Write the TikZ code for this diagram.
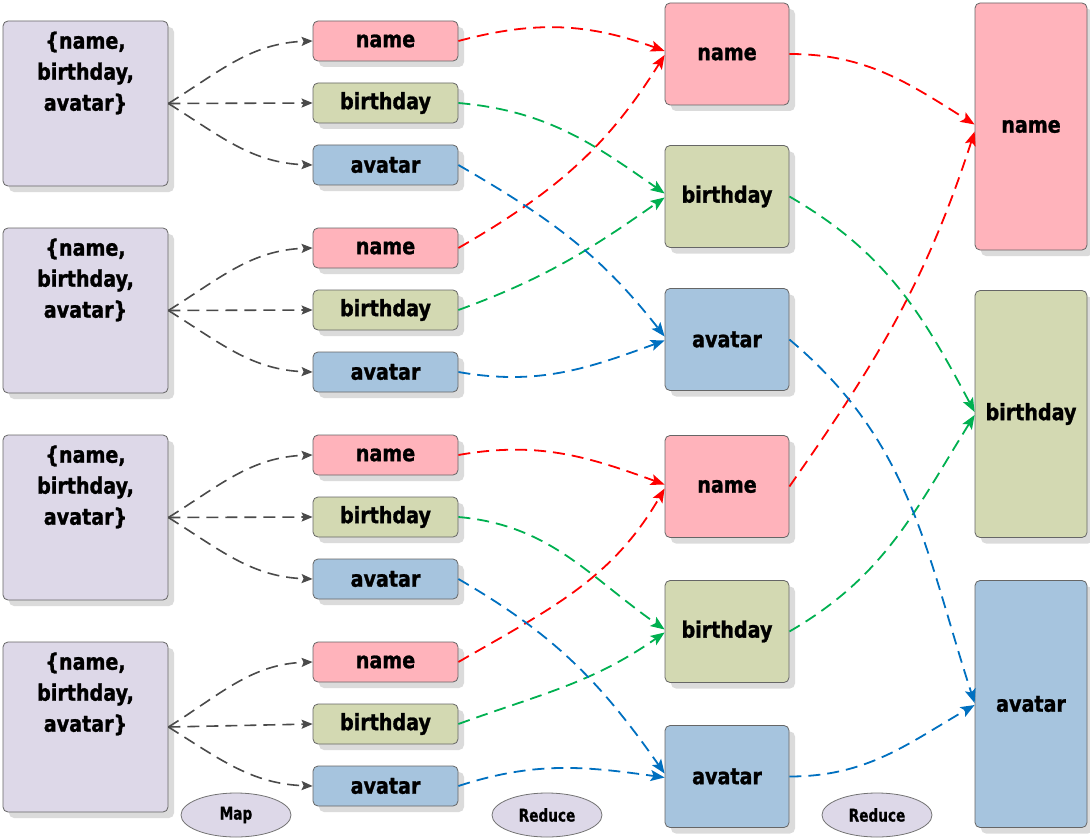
\documentclass[tikz,border=0pt]{standalone}
\usepackage{fontspec}
\usetikzlibrary{arrows.meta,shadows,shapes.geometric}
\newfontfamily\lblfont{DejaVu Sans}[FakeStretch=0.85,FakeBold=1.2]
\newfontfamily\tagfont{DejaVu Sans}[FakeStretch=0.78,FakeBold=0.8]
\definecolor{recC}{HTML}{DDD8E8}
\definecolor{nameC}{HTML}{FFB3BB}
\definecolor{birthC}{HTML}{D3D9B2}
\definecolor{avaC}{HTML}{A6C4DE}
\definecolor{mapline}{HTML}{4A4A4A}
\definecolor{redline}{HTML}{FF0000}
\definecolor{greenline}{HTML}{00B050}
\definecolor{blueline}{HTML}{0070C0}
\tikzset{
  box/.style={draw=black!60, line width=0.8pt, rounded corners=5pt, inner sep=0pt,
    font=\lblfont\bfseries\fontsize{22.5}{26}\selectfont,
    drop shadow={shadow xshift=6pt, shadow yshift=-6pt, fill=black!14, opacity=1}},
  recbox/.style={box, fill=recC, minimum width=165pt},
  namebox/.style={box, fill=nameC},
  birthbox/.style={box, fill=birthC},
  avabox/.style={box, fill=avaC},
  small/.style={minimum width=145pt, minimum height=40pt},
  mid/.style={minimum width=124pt, minimum height=102pt},
  tall/.style={minimum width=112pt, minimum height=247pt},
  rectext/.style={font=\lblfont\bfseries\fontsize{22.5}{31}\selectfont, align=center, inner sep=0pt},
  phase/.style={ellipse, draw=black!55, line width=0.8pt, fill=recC, minimum width=110pt,
    minimum height=44pt, inner sep=0pt, font=\tagfont\bfseries\fontsize{17.5}{19}\selectfont},
  conn/.style={dash pattern=on 12pt off 7pt, line width=1.8pt},
  mapc/.style={conn, draw=mapline, line width=1.6pt,
    -{Stealth[length=11pt,width=9pt,inset=2pt,fill=mapline]}},
  redc/.style={conn, draw=redline, -{Stealth[length=14pt,width=11pt,inset=3pt,fill=redline]}},
  greenc/.style={conn, draw=greenline, -{Stealth[length=14pt,width=11pt,inset=3pt,fill=greenline]}},
  bluec/.style={conn, draw=blueline, -{Stealth[length=14pt,width=11pt,inset=3pt,fill=blueline]}},
}
\begin{document}
\begin{tikzpicture}[x=1pt,y=1pt]
\useasboundingbox (0,0) rectangle (1090,-840);

% records
\node[recbox, minimum height=165pt] (m1) at (85.5,-103.5) {};
\node[recbox, minimum height=165pt] (m2) at (85.5,-310.5) {};
\node[recbox, minimum height=165pt] (m3) at (85.5,-517.5) {};
\node[recbox, minimum height=170pt] (m4) at (85.5,-727) {};
\node[rectext] (m1t) at (85.5,-73) {\{name,\\birthday,\\avatar\}};
\node[rectext] (m2t) at (85.5,-280) {\{name,\\birthday,\\avatar\}};
\node[rectext] (m3t) at (85.5,-487) {\{name,\\birthday,\\avatar\}};
\node[rectext] (m4t) at (85.5,-694) {\{name,\\birthday,\\avatar\}};

% map output
\node[namebox, small]  (n1) at (385.5,-41) {name};
\node[birthbox, small] (b1) at (385.5,-103) {birthday};
\node[avabox, small]   (a1) at (385.5,-165) {avatar};
\node[namebox, small]  (n2) at (385.5,-248) {name};
\node[birthbox, small] (b2) at (385.5,-310) {birthday};
\node[avabox, small]   (a2) at (385.5,-372) {avatar};
\node[namebox, small]  (n3) at (385.5,-455) {name};
\node[birthbox, small] (b3) at (385.5,-517) {birthday};
\node[avabox, small]   (a3) at (385.5,-579) {avatar};
\node[namebox, small]  (n4) at (385.5,-662) {name};
\node[birthbox, small] (b4) at (385.5,-724) {birthday};
\node[avabox, small]   (a4) at (385.5,-786) {avatar};

% first reduce
\node[namebox, mid]  (rn1) at (727,-54) {name};
\node[birthbox, mid] (rb1) at (727,-196.5) {birthday};
\node[avabox, mid]   (ra1) at (727,-339.5) {avatar};
\node[namebox, mid]  (rn2) at (727,-486.5) {name};
\node[birthbox, mid] (rb2) at (727,-631.5) {birthday};
\node[avabox, mid]   (ra2) at (727,-776.5) {avatar};

% second reduce
\node[namebox, tall]  (fn) at (1031,-126.5) {name};
\node[birthbox, tall] (fb) at (1031,-414) {birthday};
\node[avabox, tall]   (fa) at (1031,-704) {avatar};

% phase tags
\node[phase] (pmap) at (236,-815) {Map};
\node[phase] (pred1) at (547,-815) {Reduce};
\node[phase] (pred2) at (877,-815) {Reduce};

% map fan-out
\foreach \i in {1,2,3,4}{
  \draw[mapc] (m\i.east) to[out=32,in=182] (n\i.west);
  \draw[mapc] (m\i.east) -- (b\i.west);
  \draw[mapc] (m\i.east) to[out=-32,in=178] (a\i.west);
}

% name
\draw[redc] (n1.east) to[out=15,in=160] ([yshift=3pt]rn1.west);
\draw[redc] (n2.east) to[out=30,in=238] ([yshift=-1pt]rn1.west);
\draw[redc] (n3.east) to[out=10,in=160] ([yshift=2pt]rn2.west);
\draw[redc] (n4.east) to[out=30,in=240] ([yshift=-2pt]rn2.west);
\draw[redc] (rn1.east) to[out=0,in=148] ([yshift=2pt]fn.west);
\draw[redc] (rn2.east) to[out=55,in=252] ([yshift=-5pt]fn.west);

% birthday
\draw[greenc] (b1.east) to[out=-5,in=145] ([yshift=3pt]rb1.west);
\draw[greenc] (b2.east) to[out=20,in=215] ([yshift=-1pt]rb1.west);
\draw[greenc] (b3.east) to[out=-5,in=145] ([yshift=2pt]rb2.west);
\draw[greenc] (b4.east) to[out=20,in=215] ([yshift=-1pt]rb2.west);
\draw[greenc] (rb1.east) to[out=-30,in=118] ([yshift=2pt]fb.west);
\draw[greenc] (rb2.east) to[out=30,in=238] ([yshift=-1pt]fb.west);

% avatar
\draw[bluec] (a1.east) to[out=-30,in=128] ([yshift=3pt]ra1.west);
\draw[bluec] (a2.east) to[out=-10,in=200] ([yshift=-1pt]ra1.west);
\draw[bluec] (a3.east) to[out=-30,in=125] ([yshift=3pt]ra2.west);
\draw[bluec] (a4.east) to[out=18,in=172] ([yshift=-1pt]ra2.west);
\draw[bluec] (ra1.east) to[out=-40,in=108] ([yshift=1pt]fa.west);
\draw[bluec] (ra2.east) to[out=0,in=210] ([yshift=-1pt]fa.west);
\end{tikzpicture}
\end{document}
